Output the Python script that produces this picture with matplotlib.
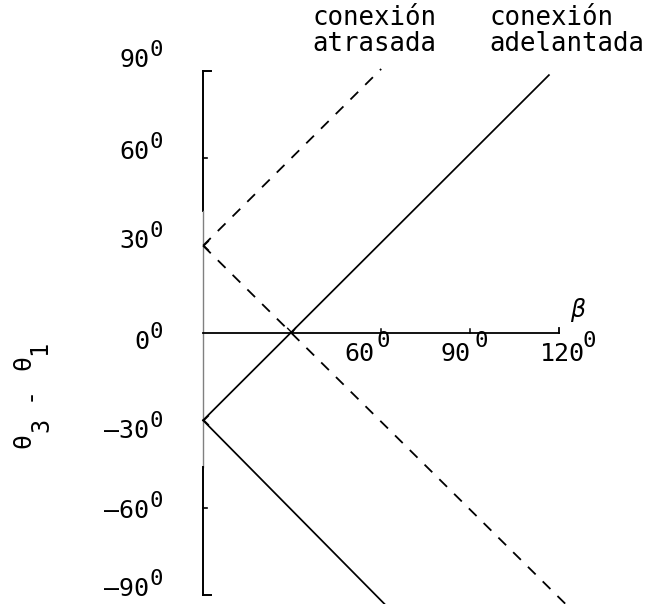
import matplotlib
matplotlib.use("Agg")
import matplotlib.pyplot as plt

plt.rcParams['font.family'] = ['DejaVu Sans Mono']

# ticks of both axes (degrees)
yticks = [90, 60, 30, 0, -30, -60, -90]
xticks = [60, 90, 120]

# conexion adelantada (solid): upper branch and lower branch from -30
adel_up_beta = [0, 116.5]
adel_up_theta = [-30, 88.6]
adel_dn_beta = [0, 62]
adel_dn_theta = [-30, -94]

# conexion atrasada (dashed): both branches start at +30
atr_up_beta = [0, 60]
atr_up_theta = [30, 90.7]
atr_dn_beta = [0, 123]
atr_dn_theta = [30, -94]

fig = plt.figure(figsize=(6.54, 6.04), dpi=100)
ax = fig.add_axes([0, 0, 1, 1])
ax.set_xlim(-68.4, 151.9)
ax.set_ylim(-93.1, 114.4)
ax.axis('off')

k = 'black'
# vertical axis, drawn in three pieces (the middle one is fainter)
ax.plot([0, 0], [90, 42], color=k, lw=1.4)
ax.plot([0, 0], [42, -46], color='#808080', lw=1.0)
ax.plot([0, 0], [-46, -90], color=k, lw=1.4)
ax.plot([0, 2.7], [90, 90], color=k, lw=1.4)
ax.plot([0, 2.7], [-90, -90], color=k, lw=1.4)
for t in [60, -60]:
    ax.plot([0, 1.2], [t, t], color=k, lw=1.2)

# horizontal axis
ax.plot([0, 120], [0, 0], color=k, lw=1.3)
ax.plot([120, 120], [0, 1.8], color=k, lw=1.3)
for t in xticks[:-1]:
    ax.plot([t, t], [0, 1.5], color=k, lw=1.1)

# curves
ax.plot(adel_up_beta, adel_up_theta, color=k, lw=1.25)
ax.plot(adel_dn_beta, adel_dn_theta, color=k, lw=1.25)
ax.plot(atr_up_beta, atr_up_theta, color=k, lw=1.3, dashes=(6, 5.5))
ax.plot(atr_dn_beta, atr_dn_theta, color=k, lw=1.3, dashes=(6, 5.5))

# small arrow heads where the branches meet
ax.plot([1.8, 0.3, 1.8], [31.5, 30, 28.5], color=k, lw=1.0)
ax.plot([1.8, 0.3, 1.8], [-28.5, -30, -31.5], color=k, lw=1.0)
ax.plot([28.5, 30, 31.2], [1.6, 0, 1.8], color=k, lw=1.0)

# tick labels: number plus a raised "0" for degrees
ylab_off = {90: 3.9, 60: 2.2, 30: 1.6, 0: -3.1, -30: -3.7, -60: -1.1, -90: 2.1}
for t in yticks:
    yl = t + ylab_off[t]
    ax.text(-18.2, yl, str(t).replace('-', '\u2012'), ha='right',
            va='center', fontsize=18)
    ax.text(-15.8, yl + 3.4, '0', ha='center', va='center', fontsize=16)

xlab_pos = {60: 52.5, 90: 85.2, 120: 121.2}
xsup_pos = {60: 60.8, 90: 93.6, 120: 130.0}
for t in xticks:
    ax.text(xlab_pos[t], -7.2, str(t), ha='center', va='center', fontsize=18)
    ax.text(xsup_pos[t], -2.6, '0', ha='center', va='center', fontsize=16)

ax.text(126.3, 7.9, '\u03b2', ha='center', va='center', fontsize=17,
        family='DejaVu Sans', style='italic')

# y label, theta_3 - theta_1 written upwards
ax.text(-60.6, -36.8, '\u03b8', rotation=90, ha='center', va='center',
        fontsize=18)
ax.text(-54.5, -31.6, '3', rotation=90, ha='center', va='center',
        fontsize=17)
ax.text(-58.9, -20.9, '-', rotation=90, ha='center', va='center',
        fontsize=18)
ax.text(-60.6, -10.0, '\u03b8', rotation=90, ha='center', va='center',
        fontsize=18)
ax.text(-55.2, -5.2, '1', rotation=90, ha='center', va='center',
        fontsize=17)

# labels of the two connections
ax.text(36.7, 105.8, 'conexión', ha='left', va='baseline', fontsize=18.5)
ax.text(36.7, 96.9, 'atrasada', ha='left', va='baseline', fontsize=18.5)
ax.text(96.6, 105.8, 'conexión', ha='left', va='baseline', fontsize=18.5)
ax.text(96.6, 96.9, 'adelantada', ha='left', va='baseline', fontsize=18.5)

fig.savefig('out.png', dpi=100)
